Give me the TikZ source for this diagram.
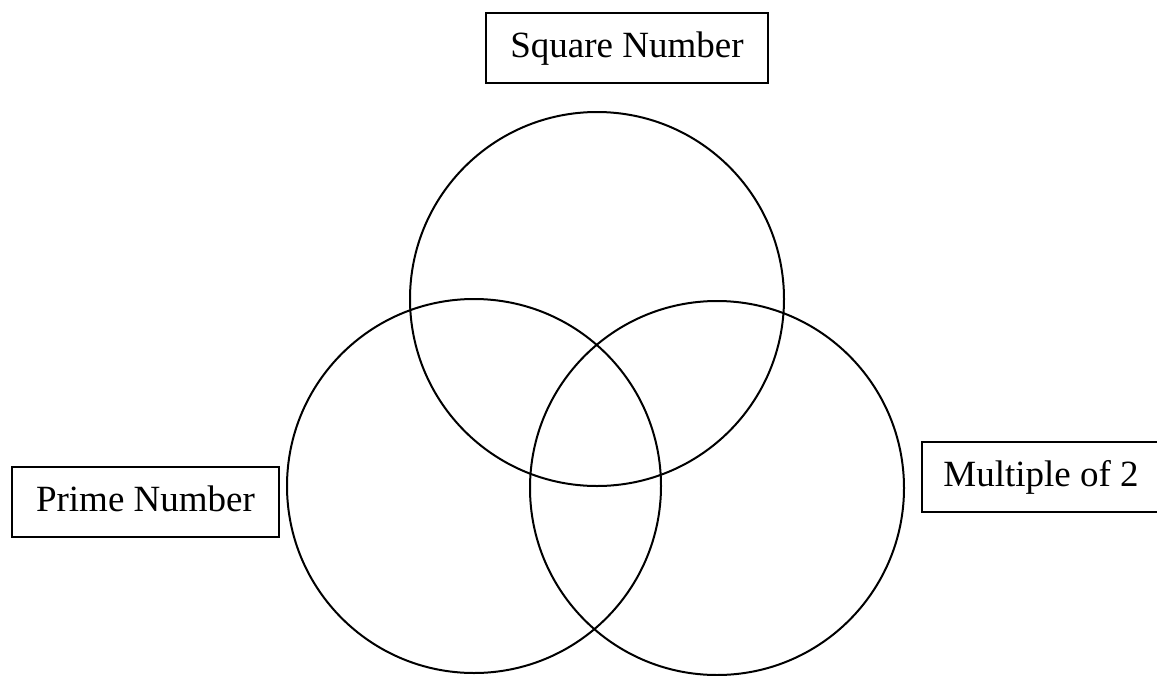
\documentclass[tikz,border=0pt]{standalone}
\usepackage{fontspec}
\setmainfont{Liberation Serif}
\begin{document}
\begin{tikzpicture}[x=1pt,y=-1pt,
  setcircle/.style={draw,circle,line width=2pt,minimum size=374pt,inner sep=0pt},
  labelbox/.style={draw,line width=1.4pt,inner sep=0pt,minimum height=70pt,
    font=\fontsize{37}{44}\selectfont,text height=25pt,text depth=6pt}]
\useasboundingbox (0,0) rectangle (1157,675);
\clip (0,0) rectangle (1157,675);
\fill[white] (0,0) rectangle (1157,675);
\node[setcircle] (sq) at (597,299) {};
\node[setcircle] (pr) at (474,486) {};
\node[setcircle] (mu) at (717,488) {};
\node[labelbox,minimum width=282pt] (sqlabel) at (627,48) {Square Number};
\node[labelbox,minimum width=267pt] (prlabel) at (145.5,502) {Prime Number};
\node[labelbox,minimum width=238pt] (mulabel) at (1041,477) {Multiple of 2};
\end{tikzpicture}
\end{document}
